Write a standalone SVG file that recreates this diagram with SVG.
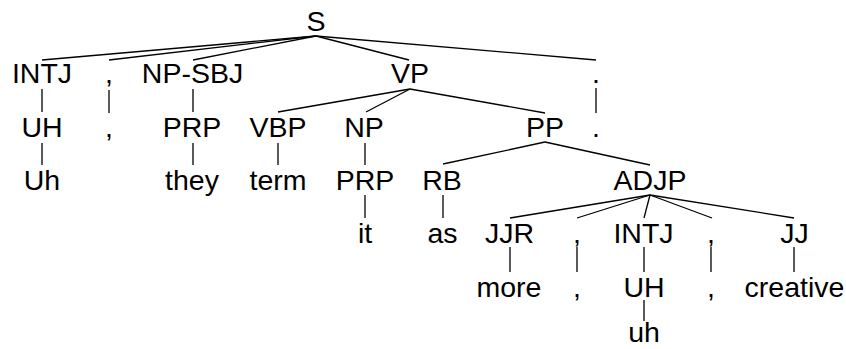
<svg xmlns="http://www.w3.org/2000/svg" width="846" height="349" viewBox="0 0 846 349">
  <style>
    text { font-family: "Liberation Sans", Arial, sans-serif; font-size: 28.5px; fill: #000; text-anchor: middle; }
    #edges line { stroke: #000; stroke-width: 1.3; }
  </style>
  <rect width="846" height="349" fill="#fff"/>

  <!-- tree edges -->
  <g id="edges">
    <line x1="316" y1="36" x2="42" y2="60"/>
    <line x1="316" y1="36" x2="109" y2="60"/>
    <line x1="316" y1="36" x2="193" y2="60"/>
    <line x1="316" y1="36" x2="409" y2="60"/>
    <line x1="316" y1="36" x2="596" y2="60"/>

    <line x1="42" y1="89" x2="42" y2="112"/>
    <line x1="42" y1="143" x2="42" y2="165"/>
    <line x1="109" y1="90" x2="109" y2="113"/>
    <line x1="193" y1="89" x2="193" y2="112"/>
    <line x1="193" y1="143" x2="193" y2="165"/>
    <line x1="596" y1="88" x2="596" y2="113"/>

    <line x1="410" y1="89" x2="278" y2="112"/>
    <line x1="410" y1="89" x2="366" y2="112"/>
    <line x1="410" y1="89" x2="545" y2="113"/>
    <line x1="278" y1="143" x2="278" y2="165"/>
    <line x1="365" y1="143" x2="365" y2="165"/>
    <line x1="365" y1="195" x2="365" y2="218"/>

    <line x1="545" y1="142" x2="443" y2="164"/>
    <line x1="545" y1="142" x2="650" y2="165"/>
    <line x1="443" y1="195" x2="443" y2="218"/>

    <line x1="650" y1="195" x2="510" y2="218"/>
    <line x1="650" y1="195" x2="577" y2="218"/>
    <line x1="650" y1="195" x2="644" y2="218"/>
    <line x1="650" y1="195" x2="712" y2="218"/>
    <line x1="650" y1="195" x2="794" y2="218"/>

    <line x1="510" y1="247" x2="510" y2="272"/>
    <line x1="577" y1="247" x2="577" y2="272"/>
    <line x1="644" y1="247" x2="644" y2="272"/>
    <line x1="711" y1="247" x2="711" y2="272"/>
    <line x1="794" y1="247" x2="794" y2="272"/>
    <line x1="644" y1="300" x2="644" y2="321"/>
  </g>

  <!-- root -->
  <g id="n-S"><text x="316" y="31">S</text></g>

  <!-- level 1 -->
  <g id="n-INTJ1"><text x="42" y="83">INTJ</text></g>
  <g id="n-comma1"><text x="109" y="83">,</text></g>
  <g id="n-NPSBJ"><text x="192.5" y="83">NP-SBJ</text></g>
  <g id="n-VP"><text x="410" y="83">VP</text></g>
  <g id="n-period1"><text x="596" y="83">.</text></g>

  <!-- level 2 -->
  <g id="n-UH1"><text x="42" y="137">UH</text></g>
  <g id="n-comma1w"><text x="109" y="137">,</text></g>
  <g id="n-PRP1"><text x="192" y="137">PRP</text></g>
  <g id="n-VBP"><text x="278" y="137">VBP</text></g>
  <g id="n-NP"><text x="364" y="137">NP</text></g>
  <g id="n-PP"><text x="545" y="137">PP</text></g>
  <g id="n-period1w"><text x="596" y="137">.</text></g>

  <!-- level 3 -->
  <g id="n-Uh"><text x="42" y="190">Uh</text></g>
  <g id="n-they"><text x="192" y="190">they</text></g>
  <g id="n-term"><text x="278" y="190">term</text></g>
  <g id="n-PRP2"><text x="365" y="190">PRP</text></g>
  <g id="n-RB"><text x="442" y="190">RB</text></g>
  <g id="n-ADJP"><text x="650" y="190">ADJP</text></g>

  <!-- level 4 -->
  <g id="n-it"><text x="365" y="243">it</text></g>
  <g id="n-as"><text x="442.5" y="243">as</text></g>
  <g id="n-JJR"><text x="509.5" y="243">JJR</text></g>
  <g id="n-comma2"><text x="577" y="243">,</text></g>
  <g id="n-INTJ2"><text x="643.5" y="243">INTJ</text></g>
  <g id="n-comma3"><text x="711" y="243">,</text></g>
  <g id="n-JJ"><text x="794.5" y="243">JJ</text></g>

  <!-- level 5 -->
  <g id="n-more"><text x="509" y="297">more</text></g>
  <g id="n-comma2w"><text x="577" y="297">,</text></g>
  <g id="n-UH2"><text x="644" y="297">UH</text></g>
  <g id="n-comma3w"><text x="711" y="297">,</text></g>
  <g id="n-creative"><text x="794.5" y="297">creative</text></g>

  <!-- level 6 -->
  <g id="n-uh"><text x="644" y="342">uh</text></g>
</svg>
